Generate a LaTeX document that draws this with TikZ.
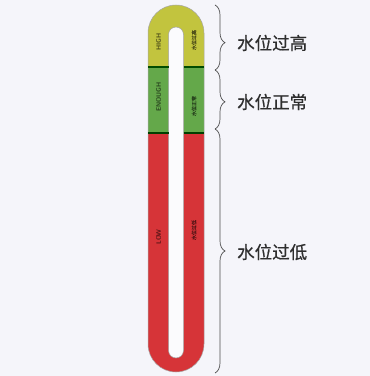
\documentclass[tikz,border=0pt]{standalone}
\usepackage{fontspec}
\newfontfamily\cjk[FakeBold=0.6]{Noto Sans CJK SC}
\newfontfamily\cjksmall[FakeBold=0.4]{Noto Sans CJK SC}
\usetikzlibrary{decorations.pathreplacing}
\definecolor{bg}{HTML}{F5F5FA}
\definecolor{yel}{RGB}{194,196,62}
\definecolor{grn}{RGB}{100,168,74}
\definecolor{rd}{RGB}{214,52,56}
\definecolor{ink}{HTML}{2E2E2E}
\tikzset{
  bandtext/.style={rotate=90, font=\sffamily\bfseries\fontsize{6.5}{6.5}\selectfont, inner sep=0pt},
  cjktext/.style={rotate=90, font=\cjksmall\fontsize{5}{5}\selectfont, inner sep=0pt},
  lbl/.style={anchor=west, text=ink, font=\cjk\fontsize{17.5}{17.5}\selectfont, inner sep=0pt},
  bracestyle/.style={draw=ink!85, line width=0.7pt, decorate, decoration={brace, amplitude=10pt, #1}},
  sep/.style={line width=1.2pt}
}
\begin{document}
\begin{tikzpicture}[x=1pt,y=1pt]
\fill[bg] (0,0) rectangle (370,376);
\useasboundingbox (0,0) rectangle (370,376);
\def\outerpath{(148,32) -- (148,343) arc[start angle=180,end angle=0,radius=28] -- (204,32) arc[start angle=0,end angle=-180,radius=28] -- cycle}
\def\innerpath{(168.5,25.5) -- (168.5,341.5) arc[start angle=180,end angle=0,radius=7.5] -- (183.5,25.5) arc[start angle=0,end angle=-180,radius=7.5] -- cycle}
\fill[white!60!bg] \innerpath;
\begin{scope}[even odd rule]
  \clip \outerpath \innerpath;
  \fill[yel] (140,309) rectangle (212,380);
  \fill[grn] (140,243) rectangle (212,309);
  \fill[rd] (140,0) rectangle (212,243);
\end{scope}
\draw[black!35, line width=0.5pt] \outerpath \innerpath;
\draw[sep, black!70!green] (148,309) -- (168.5,309) (183.5,309) -- (204,309);
\draw[sep, black!75!green] (148,243) -- (168.5,243) (183.5,243) -- (204,243);
% arm labels
\node[bandtext, text=yel!40!black] (hi) at (158.5,334) {HIGH};
\node[bandtext, text=grn!40!black] (en) at (158.5,279) {ENOUGH};
\node[bandtext, text=rd!40!black] (lo) at (158.5,139) {LOW};
\node[cjktext, text=yel!40!black] (hir) at (194,336) {水位过高};
\node[cjktext, text=grn!40!black] (enr) at (194,270) {水位正常};
\node[cjktext, text=rd!40!black] (lor) at (194,146) {水位过低};
% braces
\coordinate (b0) at (215,371);
\coordinate (b1) at (215,306);
\coordinate (b2) at (215,247);
\coordinate (b3) at (215,3);
\draw[bracestyle={aspect=0.58}] (b0) -- (b1);
\draw[bracestyle={aspect=0.54}] (b1) -- (b2);
\draw[bracestyle={aspect=0.50}] (b2) -- (b3);
\node[lbl] (t1) at (237,333) {水位过高};
\node[lbl] (t2) at (237,274) {水位正常};
\node[lbl] (t3) at (237,124) {水位过低};
\end{tikzpicture}
\end{document}
